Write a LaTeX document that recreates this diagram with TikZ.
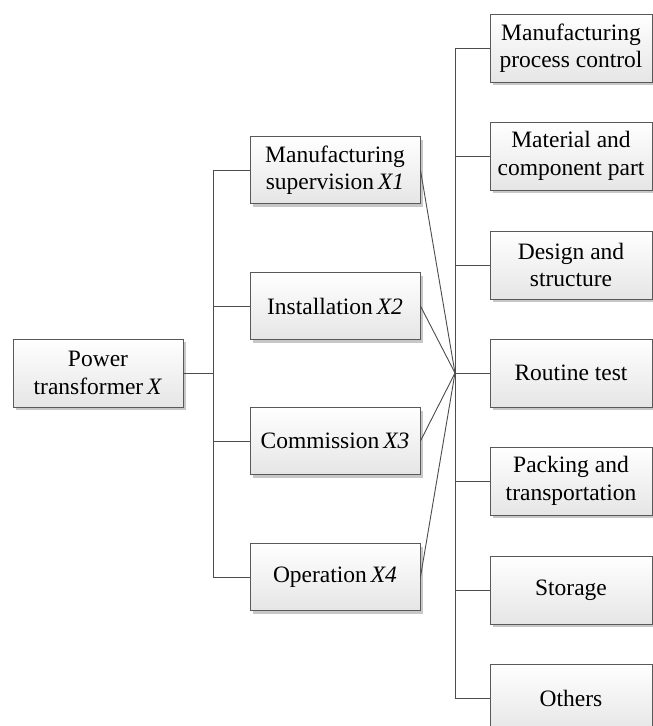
\documentclass[tikz,border=0pt]{standalone}
\usepackage{fontspec}
\setmainfont{Liberation Serif}
\usetikzlibrary{shadows}
\begin{document}
\begin{tikzpicture}[x=1pt,y=-1pt,
  box/.style={draw=black!65, line width=0.9pt, top color=white, bottom color=black!10,
    inner sep=0pt, align=center, font=\fontsize{23.5}{27.5}\selectfont,
    drop shadow={shadow xshift=3pt, shadow yshift=-3pt, fill=black!22, opacity=1}},
  lbox/.style={box, minimum width=170pt, minimum height=68pt},
  mbox/.style={box, minimum width=170pt, minimum height=67pt},
  rbox/.style={box, minimum width=162pt, minimum height=68pt},
  conn/.style={draw=black!70, line width=0.9pt}]
\clip (0,0) rectangle (653,726);
\fill[white] (0,0) rectangle (653,726);
% left
\node[lbox] (P) at (98,373) {Power\\transformer\,\textit{X}};
% middle
\node[mbox] (M1) at (335,170) {Manufacturing\\supervision\,\textit{X1}};
\node[mbox] (M2) at (335,306) {Installation\,\textit{X2}};
\node[mbox] (M3) at (335,441) {Commission\,\textit{X3}};
\node[mbox] (M4) at (335,577) {Operation\,\textit{X4}};
% right
\node[rbox] (R1) at (571,48) {Manufacturing\\process control};
\node[rbox] (R2) at (571,156) {Material and\\component part};
\node[rbox] (R3) at (571,265) {Design and\\structure};
\node[rbox] (R4) at (571,373) {Routine test};
\node[rbox] (R5) at (571,481) {Packing and\\transportation};
\node[rbox] (R6) at (571,590) {Storage};
\node[rbox] (R7) at (571,698) {Others};
% connectors
\coordinate (lb) at (213,373);
\coordinate (rc) at (455,373);
\draw[conn] (P.east) -- (lb);
\foreach \m in {M1,M2,M3,M4} {
  \draw[conn] (lb) |- (\m.west);
  \draw[conn] (\m.east) -- (rc);
}
\foreach \r in {R1,R2,R3,R4,R5,R6,R7} {
  \draw[conn] (rc) |- (\r.west);
}
\end{tikzpicture}
\end{document}
